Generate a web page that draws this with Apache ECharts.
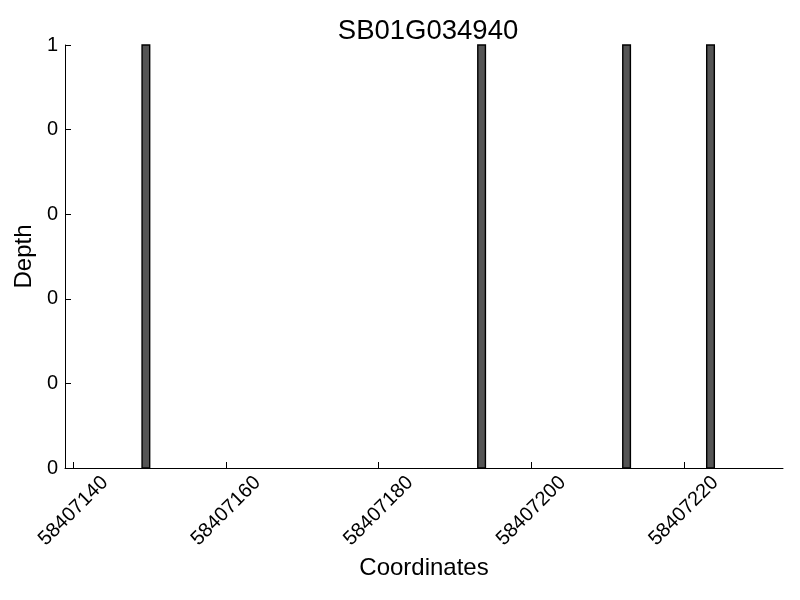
<!DOCTYPE html>
<html>
<head>
<meta charset="utf-8">
<script src="https://cdn.jsdelivr.net/npm/echarts@6/dist/echarts.min.js"></script>
<style>
  html, body { margin: 0; padding: 0; background: #fff; }
  #main { width: 800px; height: 600px; }
</style>
</head>
<body>
<div id="main"></div>
<script>
// data
let positions = [58407149, 58407193, 58407212, 58407223];
let depths = [1, 1, 1, 1];
let binWidth = 1;
let xTicks = [58407140, 58407160, 58407180, 58407200, 58407220];
let yTicks = [0, 0.2, 0.4, 0.6, 0.8, 1];

let font = 'Liberation Sans';

let myChart = echarts.init(document.getElementById('main'));

let option = {
    backgroundColor: '#ffffff',
    animation: false,
    title: {
        text: 'SB01G034940',
        left: 423,
        top: 12,
        textAlign: 'center',
        textStyle: {
            fontFamily: font,
            fontSize: 27.5,
            fontWeight: 'normal',
            color: '#000'
        }
    },
    grid: {
        left: 65,
        right: 17,
        top: 45,
        bottom: 132
    },
    xAxis: {
        type: 'value',
        min: 58407138.9,
        max: 58407233,
        name: 'Coordinates',
        nameLocation: 'middle',
        nameGap: 88,
        nameTextStyle: { fontFamily: font, fontSize: 24, color: '#000' },
        axisLine: { onZero: false, lineStyle: { color: '#000', width: 1 } },
        axisTick: {
            show: true,
            inside: true,
            length: 6,
            customValues: xTicks,
            lineStyle: { color: '#000' }
        },
        axisLabel: {
            customValues: xTicks,
            rotate: 45,
            align: 'center',
            verticalAlign: 'middle',
            margin: 43,
            fontFamily: font,
            fontSize: 20,
            color: '#000',
            formatter: function (v) { return String(Math.round(v)); }
        },
        splitLine: { show: false }
    },
    yAxis: {
        type: 'value',
        min: 0,
        max: 1,
        name: 'Depth',
        nameLocation: 'middle',
        nameGap: 25,
        nameTextStyle: { fontFamily: font, fontSize: 24, color: '#000' },
        axisLine: { show: true, lineStyle: { color: '#000', width: 1 } },
        axisTick: {
            show: true,
            inside: true,
            length: 6,
            customValues: yTicks,
            lineStyle: { color: '#000' }
        },
        axisLabel: {
            customValues: yTicks,
            margin: 7,
            fontFamily: font,
            fontSize: 20,
            color: '#000',
            formatter: function (v) { return String(Math.trunc(v + 1e-9)); }
        },
        splitLine: { show: false }
    },
    series: [{
        type: 'custom',
        data: positions.map(function (p, i) { return [p, depths[i]]; }),
        renderItem: function (params, api) {
            let topLeft = api.coord([api.value(0), api.value(1)]);
            let bottomRight = api.coord([api.value(0) + binWidth, 0]);
            return {
                type: 'rect',
                shape: {
                    x: topLeft[0],
                    y: topLeft[1],
                    width: bottomRight[0] - topLeft[0],
                    height: bottomRight[1] - topLeft[1]
                },
                style: {
                    fill: '#555555',
                    stroke: '#000000',
                    lineWidth: 1.4
                }
            };
        }
    }]
};

myChart.setOption(option);
</script>
</body>
</html>
